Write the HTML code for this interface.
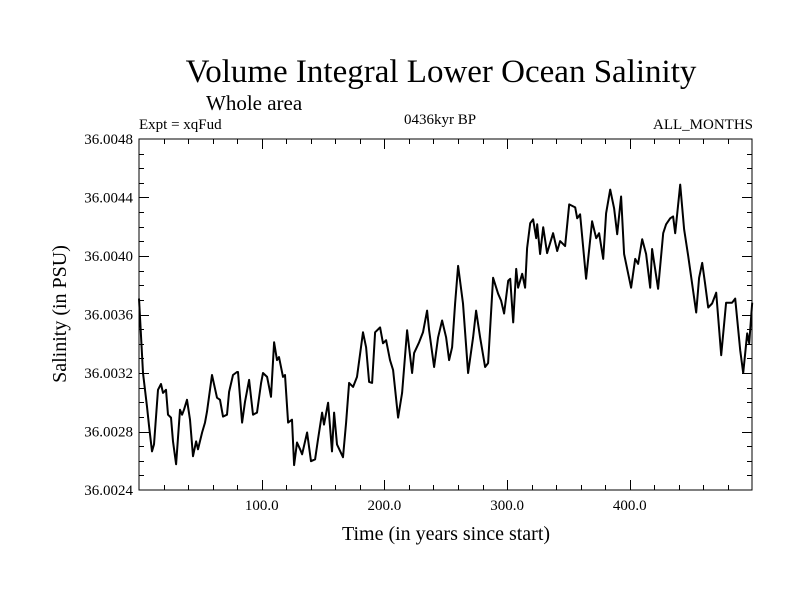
<!DOCTYPE html>
<html><head><meta charset="utf-8"><style>
body{margin:0;background:#fff}
svg text{font-family:"Liberation Serif",serif;fill:#000}
</style></head><body>
<svg width="800" height="600" viewBox="0 0 800 600">
<text x="441" y="82" font-size="33" text-anchor="middle">Volume Integral Lower Ocean Salinity</text>
<text x="206" y="110" font-size="21">Whole area</text>
<text x="139" y="129" font-size="15">Expt = xqFud</text>
<text x="440" y="124" font-size="15" text-anchor="middle">0436kyr BP</text>
<text x="753" y="129" font-size="15" text-anchor="end">ALL_MONTHS</text>
<text x="446" y="540" font-size="20" text-anchor="middle">Time (in years since start)</text>
<text transform="translate(66,314) rotate(-90)" font-size="20" text-anchor="middle">Salinity (in PSU)</text>
<g id="axes"></g>
<path id="series" fill="none" stroke="#000" stroke-width="2" stroke-linejoin="round"/>
<rect x="139" y="139" width="613" height="351" fill="none" stroke="#000" stroke-width="1"/>
</svg>
<script>
const years=[0,3.3,6.5,8.2,10.6,12.2,15.5,17.9,19.6,22.0,23.6,26.1,27.7,30.2,33.4,35.1,36.7,39.1,41.6,44.0,46.5,48.1,51.4,53.8,55.4,59.5,63.6,66.0,68.5,71.7,73.4,76.6,79.9,80.7,84.0,86.4,89.7,92.9,96.2,99.5,101.1,104.4,107.6,110.1,112.5,114.1,117.4,119.0,121.5,124.7,126.4,128.8,131.3,132.9,137.0,140.2,143.5,145.9,149.2,150.8,154.1,157.3,159.0,161.4,166.3,168.8,171.2,174.5,177.7,182.6,185.1,187.5,190.0,192.4,196.5,198.9,201.4,204.6,207.1,211.2,214.4,218.5,222.6,224.2,228.3,231.5,234.8,236.4,240.5,243.8,247.0,250.3,252.7,255.2,257.6,260.1,264.1,268.2,272.3,274.7,278.0,282.1,284.5,288.6,292.7,295.1,297.6,300.9,302.5,305.0,307.4,309.0,312.3,314.7,316.3,318.8,321.2,323.7,324.5,326.9,329.4,332.6,337.5,340.8,343.2,347.3,350.6,355.5,357.1,359.5,364.4,369.3,372.6,375.0,378.3,380.7,384.0,387.2,389.7,392.9,395.4,398.7,401.1,404.4,406.8,410.1,413.3,416.6,418.2,423.1,427.2,429.6,432.9,435.3,437.0,441.1,444.3,447.6,454.1,456.5,459.0,461.4,463.9,467.1,470.4,474.5,478.5,483.4,485.9,490.0,492.4,495.7,497.3,499.8];
const salinity=[36.003709,36.003200,36.002970,36.002834,36.002664,36.002712,36.003085,36.003125,36.003064,36.003085,36.002915,36.002895,36.002732,36.002576,36.002949,36.002915,36.002949,36.003017,36.002881,36.002631,36.002732,36.002678,36.002793,36.002861,36.002936,36.003186,36.003031,36.003017,36.002902,36.002915,36.003071,36.003186,36.003207,36.003207,36.002861,36.003003,36.003153,36.002915,36.002929,36.003132,36.003200,36.003173,36.003037,36.003410,36.003288,36.003309,36.003173,36.003186,36.002861,36.002881,36.002570,36.002725,36.002678,36.002644,36.002793,36.002597,36.002610,36.002746,36.002929,36.002847,36.002997,36.002664,36.002929,36.002712,36.002624,36.002861,36.003132,36.003105,36.003173,36.003478,36.003376,36.003139,36.003132,36.003478,36.003512,36.003403,36.003424,36.003288,36.003220,36.002895,36.003064,36.003492,36.003200,36.003336,36.003410,36.003478,36.003627,36.003492,36.003241,36.003444,36.003559,36.003444,36.003288,36.003376,36.003675,36.003932,36.003675,36.003200,36.003444,36.003627,36.003444,36.003241,36.003268,36.003851,36.003742,36.003695,36.003607,36.003831,36.003844,36.003546,36.003912,36.003783,36.003878,36.003783,36.004054,36.004224,36.004251,36.004122,36.004217,36.004014,36.004197,36.004020,36.004156,36.004034,36.004102,36.004068,36.004353,36.004332,36.004258,36.004285,36.003844,36.004237,36.004122,36.004156,36.003980,36.004292,36.004454,36.004326,36.004149,36.004407,36.004014,36.003878,36.003783,36.003980,36.003946,36.004115,36.004014,36.003783,36.004048,36.003776,36.004156,36.004217,36.004258,36.004271,36.004156,36.004488,36.004183,36.004000,36.003614,36.003851,36.003953,36.003810,36.003648,36.003675,36.003749,36.003322,36.003681,36.003681,36.003709,36.003356,36.003200,36.003471,36.003403,36.003681];
const xTicks=[100,200,300,400];
const xTickLabels=["100.0","200.0","300.0","400.0"];
const yTicks=[36.0024,36.0028,36.0032,36.0036,36.0040,36.0044,36.0048];
const yTickLabels=["36.0024","36.0028","36.0032","36.0036","36.0040","36.0044","36.0048"];
const L=139,R=752,T=139,B=490,X0=0,X1=499.6,Y0=36.0024,Y1=36.0048;
const sx=v=>L+(v-X0)/(X1-X0)*(R-L);
const sy=v=>B-(v-Y0)/(Y1-Y0)*(B-T);
const NS='http://www.w3.org/2000/svg';
const g=document.getElementById('axes');
function line(x1,y1,x2,y2,name){const l=document.createElementNS(NS,'line');l.setAttribute('x1',x1);l.setAttribute('y1',y1);l.setAttribute('x2',x2);l.setAttribute('y2',y2);l.setAttribute('stroke','#000');l.setAttribute('stroke-width','1');


g.appendChild(l);}
function text(x,y,s,anchor,name){const t=document.createElementNS(NS,'text');t.setAttribute('x',x);t.setAttribute('y',y);t.setAttribute('font-size','15');t.setAttribute('text-anchor',anchor);t.textContent=s;


g.appendChild(t);}
for(let v=20;v<X1;v+=20){const x=sx(v)+0.5|0;const len=(v%100===0)?10:5;line(x+0.5,B,x+0.5,B-len,'x-tick');line(x+0.5,T,x+0.5,T+len,'x-tick-top');}
xTicks.forEach((v,i)=>text(sx(v),510,xTickLabels[i],'middle','x-tick-label'));
for(let k=1;k<24;k++){const v=Y0+k*0.0001;const y=Math.round(sy(v))+0.5;const len=(k%4===0)?10:5;line(L,y,L+len,y,'y-tick');line(R,y,R-len,y,'y-tick-right');}
yTicks.forEach((v,i)=>text(133,sy(v)+5,yTickLabels[i],'end','y-tick-label'));
let d='';years.forEach((yr,i)=>{d+=(i?'L':'M')+sx(yr).toFixed(1)+','+sy(salinity[i]).toFixed(1);});
document.getElementById('series').setAttribute('d',d);
</script>
</body></html>
